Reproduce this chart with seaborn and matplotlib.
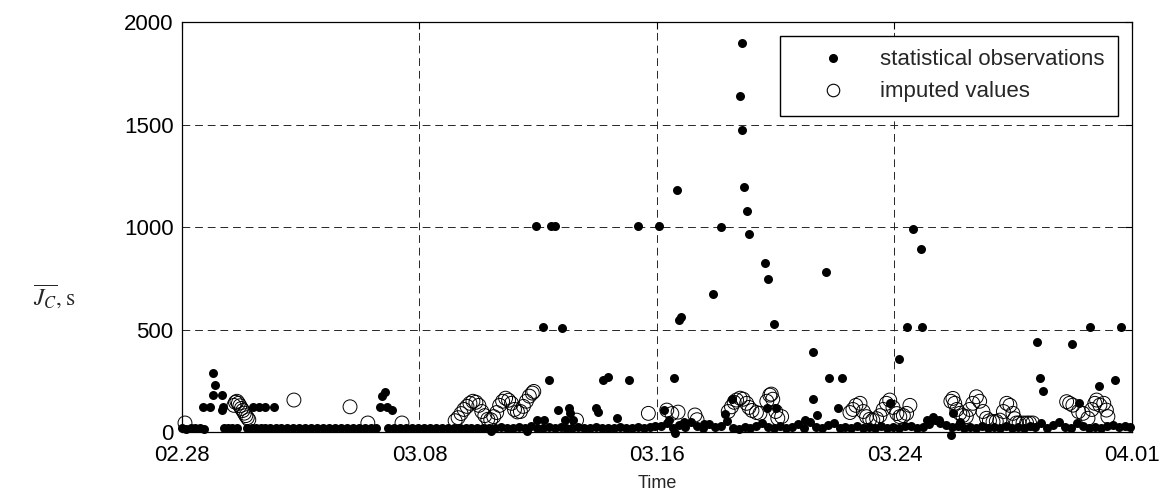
import pandas as pd
import seaborn as sns
import matplotlib.pyplot as plt
import matplotlib.dates as mdates
from matplotlib.lines import Line2D

sns.set_style("white")
plt.rcParams["font.family"] = ["Liberation Sans", "DejaVu Sans"]
plt.rcParams["mathtext.fontset"] = "stix"

# day offset from 02.28, value in seconds
# low "floor" of the observations
base_points = [
    (0.0, 20), (0.15, 15), (0.3, 20), (0.45, 18), (0.6, 20), (0.75, 15),
    (1.4, 20), (1.55, 18), (1.7, 20), (1.85, 20),
    (2.2, 20), (2.35, 20), (2.5, 18), (2.65, 20), (2.8, 20),
    (2.95, 20), (3.15, 18), (3.35, 20), (3.55, 22), (3.75, 20), (3.95, 18),
    (4.15, 20), (4.35, 20), (4.55, 22), (4.75, 20), (4.95, 18), (5.15, 20),
    (5.35, 20), (5.55, 22), (5.75, 20), (5.95, 18), (6.15, 20), (6.35, 20),
    (6.55, 22),
    (6.95, 20), (7.15, 22), (7.35, 20), (7.55, 18), (7.75, 20), (7.95, 22),
    (8.15, 20),
    (8.35, 20), (8.55, 22), (8.75, 20), (8.95, 18), (9.15, 22), (9.35, 20),
    (9.55, 20), (9.75, 22), (9.95, 20), (10.15, 18), (10.35, 22), (10.55, 20),
    (10.75, 24), (10.95, 20), (11.15, 22), (11.35, 25), (11.55, 20), (11.75, 28),
    (11.95, 20), (12.15, 22), (12.35, 25), (12.55, 20), (12.75, 24), (12.95, 22),
    (13.15, 20), (13.35, 25), (13.55, 22), (13.75, 20), (13.95, 24), (14.15, 20),
    (14.35, 22), (14.55, 20), (14.75, 25), (14.95, 22), (15.15, 20), (15.35, 24),
    (15.55, 22), (15.75, 25), (15.95, 30),
    (16.15, 30), (16.35, 45), (16.55, 20), (16.75, 35), (16.95, 25), (17.15, 50),
    (17.35, 30), (17.55, 20), (17.75, 40), (17.95, 25), (18.15, 30), (18.35, 55),
    (18.55, 20), (18.75, 15), (18.95, 25), (19.15, 20), (19.35, 30), (19.55, 45),
    (19.75, 25), (19.95, 20), (20.15, 30), (20.35, 20), (20.55, 25), (20.75, 40),
    (20.95, 20), (21.15, 50), (21.35, 25), (21.55, 20), (21.75, 35), (21.95, 45),
    (22.15, 20), (22.35, 25), (22.55, 20), (22.75, 30), (22.95, 20), (23.15, 25),
    (23.35, 20), (23.55, 30), (23.75, 20), (23.95, 25), (24.15, 20), (24.35, 30),
    (24.55, 30), (24.75, 20), (24.95, 25), (25.15, 40), (25.35, 60), (25.55, 45),
    (25.75, 35), (25.95, 25), (26.15, 30), (26.35, 20), (26.55, 25), (26.75, 20),
    (26.95, 30), (27.15, 20), (27.35, 25), (27.55, 20), (27.75, 30), (27.95, 20),
    (28.15, 25), (28.35, 20), (28.55, 30), (28.75, 25), (28.95, 45), (29.15, 20),
    (29.35, 35), (29.55, 50), (29.75, 25), (29.95, 20), (30.15, 45), (30.35, 30),
    (30.55, 20), (30.75, 25), (30.95, 20), (31.15, 30), (31.35, 35), (31.55, 25),
    (31.75, 30), (31.95, 25),
]

# higher observations
peak_points = [
    (0.71, 123), (0.94, 123), (1.04, 287), (1.11, 229), (1.04, 180), (1.34, 180),
    (1.38, 123), (1.34, 107), (2.39, 123), (2.6, 123), (2.8, 123), (3.1, 123),
    (6.84, 196), (6.73, 175), (6.67, 123), (6.89, 123), (7.06, 107),
    (11.92, 1003), (12.43, 1003), (12.56, 1003), (15.36, 1003), (16.07, 1003),
    (12.16, 513), (12.8, 505), (12.36, 253), (14.18, 253), (14.35, 268),
    (15.06, 253), (12.66, 107), (13.03, 117), (13.07, 91), (13.94, 117),
    (14.0, 100), (14.65, 67), (11.96, 58), (12.19, 58), (12.9, 58), (13.17, 58),
    (10.4, 5), (11.62, 5), (16.25, 107),
    (18.86, 1900), (18.79, 1641), (18.85, 1474), (16.67, 1179), (18.93, 1195),
    (19.03, 1076), (18.15, 1000), (19.1, 964), (19.64, 826), (19.74, 744),
    (21.69, 781), (17.88, 671), (16.81, 559), (16.74, 545), (19.94, 529),
    (24.42, 513), (21.25, 391), (24.15, 356), (16.57, 264), (21.79, 264),
    (22.23, 264), (21.25, 161), (21.39, 83), (22.1, 115), (19.7, 115),
    (20.0, 115), (18.52, 161), (23.85, 141), (16.4, 60), (16.9, 50),
    (17.6, 40), (18.3, 90), (21.0, 60), (16.6, -5),
    (24.62, 992), (24.89, 891), (24.92, 513), (30.58, 513), (31.63, 513),
    (28.8, 438), (29.98, 430), (28.9, 263), (29.0, 198), (30.89, 226),
    (31.42, 253), (30.21, 143), (25.9, -15), (25.3, 75), (25.5, 58),
    (25.97, 91), (26.2, 50), (25.08, 58),
]

imputed_points = [
    (0.1, 44),
    (1.75, 130), (1.8, 145), (1.85, 150), (1.9, 140), (1.95, 128), (2.0, 115),
    (2.05, 105), (2.1, 92), (2.15, 80), (2.2, 70), (2.25, 60),
    (3.77, 156), (5.66, 123), (6.26, 44), (7.41, 44),
    (9.2, 55), (9.3, 70), (9.4, 90), (9.5, 110), (9.6, 125), (9.7, 140),
    (9.8, 150), (9.9, 145), (10.0, 130), (10.1, 100), (10.2, 80), (10.3, 62),
    (10.4, 60), (10.5, 75), (10.6, 95), (10.7, 130), (10.8, 150), (10.9, 165),
    (11.0, 155), (11.1, 140), (11.2, 110), (11.3, 98), (11.4, 100), (11.5, 125),
    (11.6, 150), (11.7, 175), (11.8, 190), (11.85, 198),
    (13.29, 58), (15.71, 91),
    (16.33, 107), (16.5, 90), (16.71, 97), (17.28, 83), (17.35, 60),
    (18.4, 100), (18.51, 123), (18.6, 145), (18.68, 156), (18.8, 165),
    (18.9, 160), (19.02, 140), (19.1, 120), (19.2, 105), (19.35, 95),
    (19.47, 91), (19.7, 150), (19.8, 180), (19.85, 185), (19.9, 160),
    (20.0, 100), (20.07, 67), (20.2, 75),
    (22.5, 95), (22.6, 110), (22.7, 130), (22.84, 140), (22.95, 100),
    (23.06, 75), (23.17, 62), (23.27, 58), (23.4, 65), (23.51, 80),
    (23.62, 110), (23.73, 140), (23.84, 156), (23.95, 120), (24.08, 90),
    (24.18, 75), (24.3, 80), (24.41, 91), (24.52, 130),
    (25.9, 150), (25.97, 164), (26.03, 140), (26.1, 110), (26.2, 91),
    (26.3, 80), (26.42, 75), (26.53, 110), (26.64, 140), (26.76, 172),
    (26.87, 150), (26.98, 100), (27.1, 67), (27.2, 55), (27.32, 50),
    (27.43, 52), (27.55, 58), (27.67, 100), (27.78, 140), (27.89, 130),
    (27.99, 91), (28.05, 65), (28.11, 44), (28.2, 44), (28.33, 44),
    (28.45, 44), (28.55, 44), (28.66, 44),
    (29.8, 148), (29.9, 140), (30.01, 131), (30.2, 100), (30.35, 91),
    (30.52, 67), (30.65, 110), (30.75, 140), (30.81, 156), (30.92, 131),
    (31.05, 140), (31.14, 107), (31.19, 75),
]

tick_days = [0, 8, 16, 24, 32]
y_ticks = [0, 500, 1000, 1500, 2000]

start = pd.Timestamp("2015-02-28")


def to_frame(points):
    df = pd.DataFrame(points, columns=["day", "value"])
    df["time"] = start + pd.to_timedelta(df["day"], unit="D")
    return df


obs = to_frame(base_points + peak_points)
imp = to_frame(imputed_points)

fig = plt.figure(figsize=(11.63, 4.98), dpi=100)
ax = fig.add_axes([0.1565, 0.1325, 0.8168, 0.8233])

sns.scatterplot(data=obs, x="time", y="value", ax=ax, color="black",
                s=42, linewidth=0, clip_on=False, zorder=3)
sns.scatterplot(data=imp, x="time", y="value", ax=ax, color="black",
                facecolor="none", edgecolor="black", s=100, linewidth=0.7,
                clip_on=False, zorder=4)

ax.set_xlim(start, start + pd.Timedelta(days=32))
ax.set_ylim(0, 2000)
ax.set_xticks([start + pd.Timedelta(days=d) for d in tick_days])
ax.xaxis.set_major_formatter(mdates.DateFormatter("%m.%d"))
ax.set_yticks(y_ticks)

ax.set_axisbelow(True)
ax.grid(True, color="0.15", linestyle=(0, (8, 5)), linewidth=0.7)
ax.tick_params(direction="in", length=5, width=0.8, top=True, right=True,
               labelsize=16, colors="black")
ax.tick_params(axis="x", pad=9)
ax.tick_params(axis="y", pad=6)
for sp in ax.spines.values():
    sp.set_color("black")
    sp.set_linewidth(0.9)

ax.set_xlabel("Time", fontsize=13, labelpad=7)
ax.set_ylabel("")
fig.text(0.028, 0.404, r"$\overline{J_C}, \mathrm{s}$", fontsize=17,
         ha="left", va="center")

handles = [
    Line2D([], [], marker="o", linestyle="none", color="black", markersize=5.5),
    Line2D([], [], marker="o", linestyle="none", markerfacecolor="none",
           markeredgecolor="black", markeredgewidth=0.8, markersize=9),
]
leg = ax.legend(handles, ["statistical observations", "imputed values"],
                loc="upper right", fontsize=16, frameon=True, fancybox=False,
                edgecolor="black", framealpha=1, borderaxespad=0.63,
                borderpad=0.6, handlelength=3.6, handletextpad=0.3,
                labelspacing=0.5)
leg.get_frame().set_linewidth(1.0)

fig.savefig("out.png", dpi=100)
